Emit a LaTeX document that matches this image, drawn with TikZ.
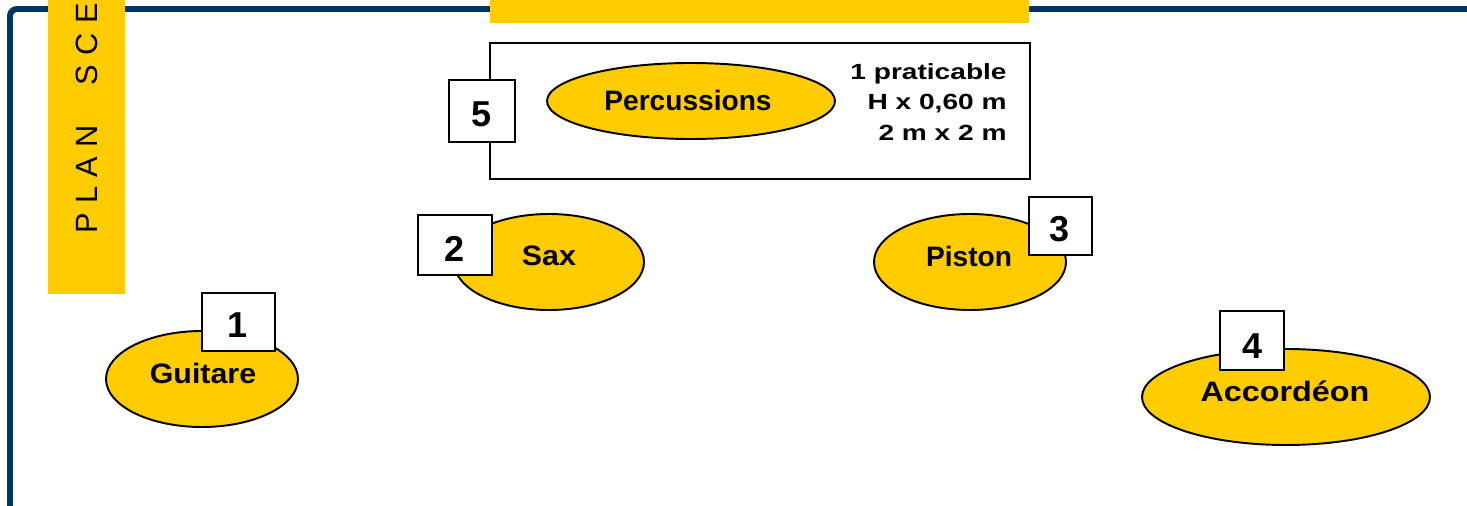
\documentclass[tikz,border=0pt]{standalone}
\usepackage{fontspec}
\setmainfont{Liberation Sans}
\newfontfamily\planfont[LetterSpace=30]{Liberation Sans}
\newfontfamily\namefont[FakeStretch=1.08]{Liberation Sans}
\newfontfamily\widefont[FakeStretch=1.15]{Liberation Sans}
\newfontfamily\pratfont[FakeStretch=1.28]{Liberation Sans}
\begin{document}
\begin{tikzpicture}[x=0.02cm,y=-0.02cm]
  \definecolor{scene}{HTML}{FFCC00}
  \definecolor{cadre}{HTML}{003366}
  \tikzset{
    musician/.style={draw=black,line width=1.1pt,fill=scene},
    numbox/.style={draw=black,line width=0.9pt,fill=white},
    numtext/.style={font=\fontsize{20.5}{24}\selectfont\bfseries},
    nametext/.style={font=\namefont\fontsize{16}{19}\selectfont\bfseries}
  }
  \useasboundingbox (0,0) rectangle (1467,506);
  \clip (0,0) rectangle (1467,506);
  % cadre de la scene
  \draw [cadre,line width=3.4pt,rounded corners=4pt] (10,520) -- (10,9) -- (1480,9);
  \fill [scene] (48,-5) rectangle (125,294);
  \fill [scene] (490,-5) rectangle (1029,23);
  \node [rotate=90,anchor=base west,inner sep=0pt] (titre) at (97,234)
    {\planfont\fontsize{17.5}{20}\selectfont PLAN\hspace{13pt} SCENE};
  % praticable
  \draw [line width=0.9pt] (490,43) rectangle (1030,179);
  \draw [musician] (691,101) ellipse (144 and 38);
  \node [font=\fontsize{16}{19}\selectfont\bfseries] (perc) at (688,100) {Percussions};
  \node [align=right,anchor=east,inner sep=0pt,font=\pratfont\fontsize{12.5}{17.6}\selectfont\bfseries] (prat) at (1007,102)
    {1 praticable\\H x 0,60 m\\2 m x 2 m};
  \draw [numbox] (449,80) rectangle (515,142);
  \node [numtext] (n5) at (482,114) {5};
  % sax
  \draw [musician] (549,262) ellipse (95 and 48);
  \node [nametext] (sax) at (549,256) {Sax};
  \draw [numbox] (418,215) rectangle (492,275);
  \node [numtext] (n2) at (455,249) {2};
  % piston
  \draw [musician] (970,262) ellipse (96 and 48);
  \node [font=\fontsize{16}{19}\selectfont\bfseries] (piston) at (969,256) {Piston};
  \draw [numbox] (1029,197) rectangle (1092,255);
  \node [numtext] (n3) at (1060,229) {3};
  % guitare
  \draw [musician] (202,379) ellipse (96 and 48);
  \node [nametext] (guitare) at (203,373) {Guitare};
  \draw [numbox] (202,293) rectangle (275,351);
  \node [numtext] (n1) at (238,325) {1};
  % accordeon
  \draw [musician] (1286,397) ellipse (144 and 48);
  \node [font=\widefont\fontsize{16}{19}\selectfont\bfseries] (accord) at (1285,391) {Accordéon};
  \draw [numbox] (1220,311) rectangle (1284,370);
  \node [numtext] (n4) at (1252,346) {4};
\end{tikzpicture}
\end{document}
